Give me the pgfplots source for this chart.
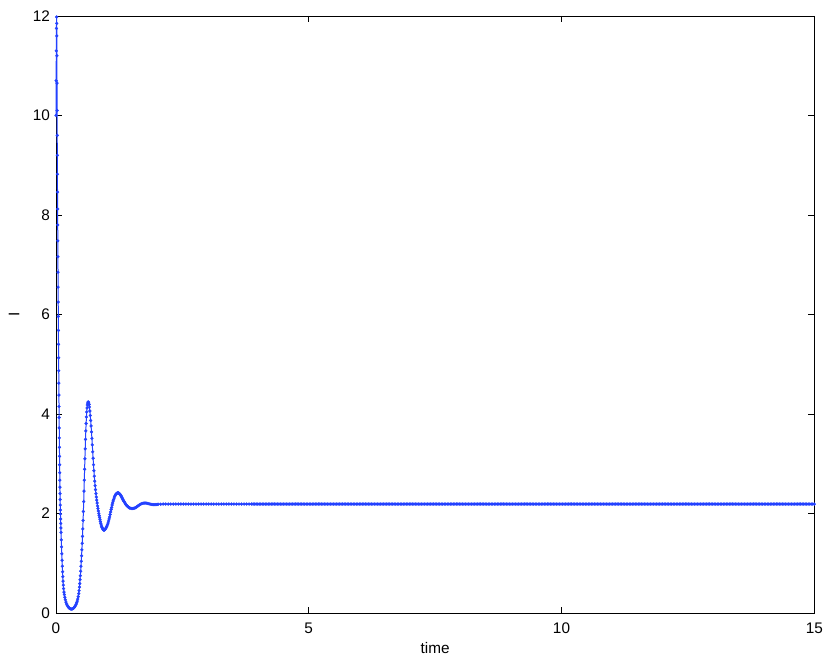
\documentclass[border=0pt]{standalone}
\usepackage{fontspec}
\setmainfont{Liberation Sans}
\usepackage{pgfplots}
\pgfplotsset{compat=1.18}
\definecolor{mblue}{RGB}{35,65,255}
\begin{document}
\fontsize{11.5}{13.8}\selectfont
\begin{tikzpicture}
\begin{axis}[name=ax, scale only axis, width=568.7pt, height=447.75pt,
 xmin=0, xmax=15, ymin=0, ymax=12,
 xtick={0,5,10,15}, ytick={0,2,4,6,8,10,12},
 tick align=inside, major tick length=4.5pt,
 axis line style={line width=0.6pt, black},
 every tick/.style={black, line width=0.6pt},
 tick label style={font=\fontsize{11.5}{13.8}\selectfont},
 /pgf/number format/assume math mode=true,
 xticklabel style={yshift=-3.5pt},
 yticklabel style={xshift=-0.5pt},
 xlabel={time}, ylabel={I},
 every axis x label/.style={at={([yshift=-26.25pt]axis description cs:0.5,0)}, anchor=center, font=\fontsize{11.5}{13.8}\selectfont},
 every axis y label/.style={at={([xshift=-31.5pt]axis description cs:0,0.5)}, anchor=center, rotate=90, font=\fontsize{11.5}{13.8}\selectfont},
 clip=false,
]
\addplot[mblue, line width=0.75pt, mark=*, mark size=1.12pt, mark options={draw=mblue, fill=mblue, line width=0.2pt}] coordinates {
(0,10.0)(0.003,10.7)(0.006,11.3)(0.009,11.75)(0.012,11.98)(0.014,11.85)(0.016,11.6)(0.018,11.2)
(0.020,10.65)(0.022,10.1)(0.024,9.6)(0.026,9.2)(0.028,8.82)(0.030,8.46)(0.032,8.12)(0.034,7.8)
(0.036,7.48)(0.038,7.16)(0.040,6.85)(0.042,6.55)(0.044,6.25)(0.046,5.96)(0.048,5.68)(0.050,5.4)
(0.052,5.13)(0.054,4.87)(0.056,4.62)(0.058,4.38)(0.060,4.15)(0.062,3.93)(0.064,3.72)(0.066,3.52)
(0.068,3.33)(0.070,3.15)(0.072,2.98)(0.074,2.82)(0.076,2.67)(0.078,2.53)(0.080,2.40)(0.082,2.28)
(0.084,2.17)(0.086,2.07)(0.088,1.99)(0.091,1.89)(0.094,1.80)(0.097,1.71)(0.100,1.62)(0.105,1.47)
(0.110,1.33)(0.115,1.19)(0.120,1.06)(0.125,0.94)(0.130,0.83)(0.135,0.73)(0.140,0.64)(0.145,0.56)
(0.150,0.49)(0.158,0.42)(0.166,0.37)(0.175,0.315)(0.185,0.265)(0.197,0.22)(0.210,0.18)(0.225,0.15)
(0.240,0.125)(0.255,0.105)(0.270,0.092)(0.285,0.084)(0.300,0.08)(0.315,0.08)(0.330,0.085)(0.345,0.095)
(0.360,0.11)(0.370,0.125)(0.380,0.14)(0.390,0.16)(0.400,0.18)(0.410,0.21)(0.420,0.24)(0.430,0.28)
(0.440,0.33)(0.450,0.39)(0.457,0.45)(0.464,0.52)(0.470,0.59)(0.476,0.67)(0.482,0.75)(0.488,0.84)
(0.494,0.94)(0.500,1.04)(0.506,1.15)(0.512,1.27)(0.518,1.40)(0.524,1.54)(0.530,1.69)(0.536,1.86)
(0.542,2.04)(0.548,2.24)(0.554,2.45)(0.560,2.67)(0.566,2.89)(0.572,3.10)(0.578,3.30)(0.584,3.49)
(0.590,3.66)(0.596,3.81)(0.602,3.94)(0.608,4.04)(0.614,4.12)(0.620,4.18)(0.627,4.22)(0.634,4.24)
(0.641,4.24)(0.648,4.22)(0.655,4.19)(0.662,4.14)(0.670,4.06)(0.678,3.97)(0.686,3.87)(0.694,3.76)
(0.702,3.64)(0.710,3.51)(0.718,3.38)(0.726,3.24)(0.734,3.11)(0.742,2.98)(0.750,2.86)(0.758,2.75)
(0.766,2.65)(0.774,2.56)(0.782,2.48)(0.790,2.40)(0.798,2.33)(0.806,2.27)(0.814,2.21)(0.822,2.15)
(0.830,2.10)(0.838,2.05)(0.846,2.00)(0.854,1.96)(0.862,1.92)(0.870,1.88)(0.878,1.84)(0.886,1.80)
(0.894,1.77)(0.902,1.74)(0.910,1.72)(0.920,1.70)(0.930,1.68)(0.940,1.67)(0.950,1.665)(0.960,1.67)
(0.970,1.68)(0.980,1.695)(0.990,1.71)(1.000,1.73)(1.010,1.75)(1.020,1.78)(1.030,1.81)(1.040,1.85)
(1.050,1.89)(1.060,1.93)(1.070,1.98)(1.080,2.03)(1.090,2.08)(1.100,2.12)(1.110,2.17)(1.120,2.21)
(1.130,2.25)(1.140,2.28)(1.150,2.31)(1.160,2.34)(1.170,2.36)(1.180,2.38)(1.190,2.395)(1.200,2.405)
(1.210,2.41)(1.220,2.415)(1.230,2.415)(1.240,2.41)(1.250,2.40)(1.260,2.39)(1.270,2.38)(1.280,2.365)
(1.290,2.35)(1.300,2.33)(1.310,2.31)(1.320,2.29)(1.330,2.27)(1.340,2.25)(1.350,2.235)(1.360,2.22)
(1.370,2.20)(1.380,2.185)(1.390,2.17)(1.400,2.16)(1.410,2.15)(1.420,2.14)(1.430,2.13)(1.440,2.12)
(1.450,2.115)(1.46,2.11)(1.48,2.105)(1.50,2.10)(1.52,2.10)(1.54,2.105)(1.56,2.11)(1.58,2.12)
(1.60,2.135)(1.62,2.15)(1.64,2.165)(1.66,2.18)(1.68,2.19)(1.70,2.20)(1.72,2.205)(1.74,2.21)
(1.76,2.21)(1.78,2.21)(1.80,2.205)(1.82,2.20)(1.84,2.195)(1.86,2.19)(1.88,2.185)(1.90,2.18)
(1.92,2.18)(1.94,2.178)(1.96,2.178)(1.98,2.18)(2.00,2.182)(2.02,2.185)
(2.07,2.187)(2.12,2.19)(2.17,2.19)(2.22,2.19)(2.27,2.19)(2.32,2.19)(2.37,2.19)(2.42,2.19)(2.47,2.19)
(2.52,2.19)(2.57,2.19)(2.62,2.19)(2.67,2.19)(2.72,2.19)(2.77,2.19)(2.82,2.19)(2.87,2.19)(2.92,2.19)
(2.97,2.19)(3.02,2.19)(3.07,2.19)(3.12,2.19)(3.17,2.19)(3.22,2.19)(3.27,2.19)(3.32,2.19)(3.37,2.19)
(3.42,2.19)(3.47,2.19)(3.52,2.19)(3.57,2.19)(3.62,2.19)(3.67,2.19)(3.72,2.19)(3.77,2.19)(3.82,2.19)
(3.87,2.19)
(3.90,2.19)(3.93,2.19)(3.96,2.19)(3.99,2.19)(4.02,2.19)(4.05,2.19)(4.08,2.19)(4.11,2.19)(4.14,2.19)(4.17,2.19)
(4.20,2.19)(4.23,2.19)(4.26,2.19)(4.29,2.19)(4.32,2.19)(4.35,2.19)(4.38,2.19)(4.41,2.19)(4.44,2.19)(4.47,2.19)
(4.50,2.19)(4.53,2.19)(4.56,2.19)(4.59,2.19)(4.62,2.19)(4.65,2.19)(4.68,2.19)(4.71,2.19)(4.74,2.19)(4.77,2.19)
(4.80,2.19)(4.83,2.19)(4.86,2.19)(4.89,2.19)(4.92,2.19)(4.95,2.19)(4.98,2.19)(5.01,2.19)(5.04,2.19)(5.07,2.19)
(5.10,2.19)(5.13,2.19)(5.16,2.19)(5.19,2.19)(5.22,2.19)(5.25,2.19)(5.28,2.19)(5.31,2.19)(5.34,2.19)(5.37,2.19)
(5.40,2.19)(5.43,2.19)(5.46,2.19)(5.49,2.19)(5.52,2.19)(5.55,2.19)(5.58,2.19)(5.61,2.19)(5.64,2.19)(5.67,2.19)
(5.70,2.19)(5.73,2.19)(5.76,2.19)(5.79,2.19)(5.82,2.19)(5.85,2.19)(5.88,2.19)(5.91,2.19)(5.94,2.19)(5.97,2.19)
(6.00,2.19)(6.03,2.19)(6.06,2.19)(6.09,2.19)(6.12,2.19)(6.15,2.19)(6.18,2.19)(6.21,2.19)(6.24,2.19)(6.27,2.19)
(6.30,2.19)(6.33,2.19)(6.36,2.19)(6.39,2.19)(6.42,2.19)(6.45,2.19)(6.48,2.19)(6.51,2.19)(6.54,2.19)(6.57,2.19)
(6.60,2.19)(6.63,2.19)(6.66,2.19)(6.69,2.19)(6.72,2.19)(6.75,2.19)(6.78,2.19)(6.81,2.19)(6.84,2.19)(6.87,2.19)
(6.90,2.19)(6.93,2.19)(6.96,2.19)(6.99,2.19)(7.02,2.19)(7.05,2.19)(7.08,2.19)(7.11,2.19)(7.14,2.19)(7.17,2.19)
(7.20,2.19)(7.23,2.19)(7.26,2.19)(7.29,2.19)(7.32,2.19)(7.35,2.19)(7.38,2.19)(7.41,2.19)(7.44,2.19)(7.47,2.19)
(7.50,2.19)(7.53,2.19)(7.56,2.19)(7.59,2.19)(7.62,2.19)(7.65,2.19)(7.68,2.19)(7.71,2.19)(7.74,2.19)(7.77,2.19)
(7.80,2.19)(7.83,2.19)(7.86,2.19)(7.89,2.19)(7.92,2.19)(7.95,2.19)(7.98,2.19)(8.01,2.19)(8.04,2.19)(8.07,2.19)
(8.10,2.19)(8.13,2.19)(8.16,2.19)(8.19,2.19)(8.22,2.19)(8.25,2.19)(8.28,2.19)(8.31,2.19)(8.34,2.19)(8.37,2.19)
(8.40,2.19)(8.43,2.19)(8.46,2.19)(8.49,2.19)(8.52,2.19)(8.55,2.19)(8.58,2.19)(8.61,2.19)(8.64,2.19)(8.67,2.19)
(8.70,2.19)(8.73,2.19)(8.76,2.19)(8.79,2.19)(8.82,2.19)(8.85,2.19)(8.88,2.19)(8.91,2.19)(8.94,2.19)(8.97,2.19)
(9.00,2.19)(9.03,2.19)(9.06,2.19)(9.09,2.19)(9.12,2.19)(9.15,2.19)(9.18,2.19)(9.21,2.19)(9.24,2.19)(9.27,2.19)
(9.30,2.19)(9.33,2.19)(9.36,2.19)(9.39,2.19)(9.42,2.19)(9.45,2.19)(9.48,2.19)(9.51,2.19)(9.54,2.19)(9.57,2.19)
(9.60,2.19)(9.63,2.19)(9.66,2.19)(9.69,2.19)(9.72,2.19)(9.75,2.19)(9.78,2.19)(9.81,2.19)(9.84,2.19)(9.87,2.19)
(9.90,2.19)(9.93,2.19)(9.96,2.19)(9.99,2.19)(10.02,2.19)(10.05,2.19)(10.08,2.19)(10.11,2.19)(10.14,2.19)(10.17,2.19)
(10.20,2.19)(10.23,2.19)(10.26,2.19)(10.29,2.19)(10.32,2.19)(10.35,2.19)(10.38,2.19)(10.41,2.19)(10.44,2.19)(10.47,2.19)
(10.50,2.19)(10.53,2.19)(10.56,2.19)(10.59,2.19)(10.62,2.19)(10.65,2.19)(10.68,2.19)(10.71,2.19)(10.74,2.19)(10.77,2.19)
(10.80,2.19)(10.83,2.19)(10.86,2.19)(10.89,2.19)(10.92,2.19)(10.95,2.19)(10.98,2.19)(11.01,2.19)(11.04,2.19)(11.07,2.19)
(11.10,2.19)(11.13,2.19)(11.16,2.19)(11.19,2.19)(11.22,2.19)(11.25,2.19)(11.28,2.19)(11.31,2.19)(11.34,2.19)(11.37,2.19)
(11.40,2.19)(11.43,2.19)(11.46,2.19)(11.49,2.19)(11.52,2.19)(11.55,2.19)(11.58,2.19)(11.61,2.19)(11.64,2.19)(11.67,2.19)
(11.70,2.19)(11.73,2.19)(11.76,2.19)(11.79,2.19)(11.82,2.19)(11.85,2.19)(11.88,2.19)(11.91,2.19)(11.94,2.19)(11.97,2.19)
(12.00,2.19)(12.03,2.19)(12.06,2.19)(12.09,2.19)(12.12,2.19)(12.15,2.19)(12.18,2.19)(12.21,2.19)(12.24,2.19)(12.27,2.19)
(12.30,2.19)(12.33,2.19)(12.36,2.19)(12.39,2.19)(12.42,2.19)(12.45,2.19)(12.48,2.19)(12.51,2.19)(12.54,2.19)(12.57,2.19)
(12.60,2.19)(12.63,2.19)(12.66,2.19)(12.69,2.19)(12.72,2.19)(12.75,2.19)(12.78,2.19)(12.81,2.19)(12.84,2.19)(12.87,2.19)
(12.90,2.19)(12.93,2.19)(12.96,2.19)(12.99,2.19)(13.02,2.19)(13.05,2.19)(13.08,2.19)(13.11,2.19)(13.14,2.19)(13.17,2.19)
(13.20,2.19)(13.23,2.19)(13.26,2.19)(13.29,2.19)(13.32,2.19)(13.35,2.19)(13.38,2.19)(13.41,2.19)(13.44,2.19)(13.47,2.19)
(13.50,2.19)(13.53,2.19)(13.56,2.19)(13.59,2.19)(13.62,2.19)(13.65,2.19)(13.68,2.19)(13.71,2.19)(13.74,2.19)(13.77,2.19)
(13.80,2.19)(13.83,2.19)(13.86,2.19)(13.89,2.19)(13.92,2.19)(13.95,2.19)(13.98,2.19)(14.01,2.19)(14.04,2.19)(14.07,2.19)
(14.10,2.19)(14.13,2.19)(14.16,2.19)(14.19,2.19)(14.22,2.19)(14.25,2.19)(14.28,2.19)(14.31,2.19)(14.34,2.19)(14.37,2.19)
(14.40,2.19)(14.43,2.19)(14.46,2.19)(14.49,2.19)(14.52,2.19)(14.55,2.19)(14.58,2.19)(14.61,2.19)(14.64,2.19)(14.67,2.19)
(14.70,2.19)(14.73,2.19)(14.76,2.19)(14.79,2.19)(14.82,2.19)(14.85,2.19)(14.88,2.19)(14.91,2.19)(14.94,2.19)(14.97,2.19)
(15.00,2.19)
};
\end{axis}
\pgfresetboundingbox
\path ([shift={(-42pt,-36.75pt)}]ax.south west) rectangle ([shift={(11.8pt,12pt)}]ax.north east);
\end{tikzpicture}
\end{document}
